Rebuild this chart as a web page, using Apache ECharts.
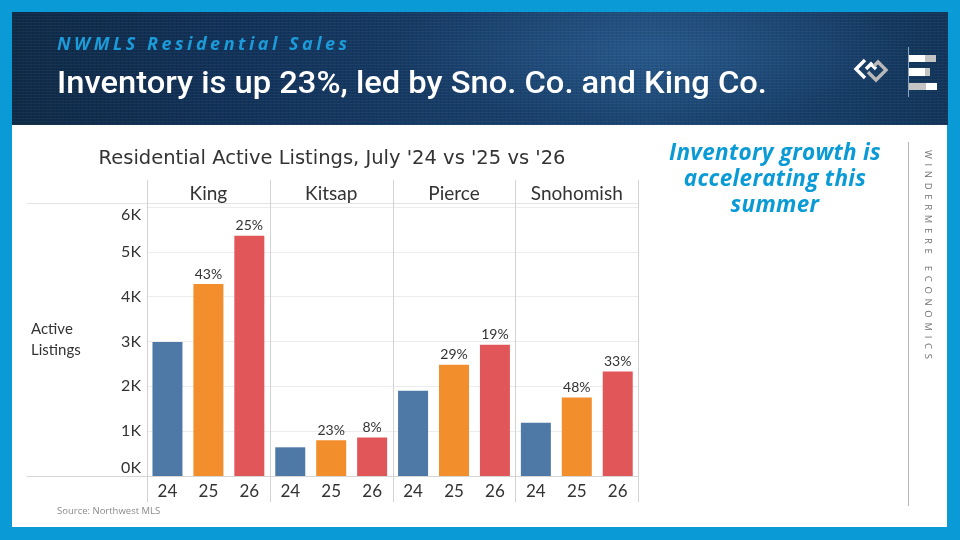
<!DOCTYPE html>
<html>
<head>
<meta charset="utf-8">
<script src="https://cdn.jsdelivr.net/npm/echarts@6/dist/echarts.min.js"></script>
<style>
  body { margin: 0; width: 960px; height: 540px; background: #0a9bd7; position: relative; overflow: hidden; font-family: Roboto, sans-serif; }
  #header {
    position: absolute; left: 12px; top: 12px; width: 936px; height: 113px;
    background:
      repeating-linear-gradient(0deg, rgba(255,255,255,0.04) 0px, rgba(255,255,255,0.04) 1px, rgba(0,0,0,0) 1px, rgba(0,0,0,0) 3px),
      repeating-linear-gradient(90deg, rgba(0,0,0,0.06) 0px, rgba(0,0,0,0.06) 1px, rgba(0,0,0,0) 1px, rgba(0,0,0,0) 4px),
      radial-gradient(ellipse 260px 70px at 640px 40px, rgba(60,120,180,0.35), rgba(60,120,180,0)),
      linear-gradient(90deg, #0f2a47 0%, #12325a 25%, #173d68 50%, #1b4673 68%, #173f6a 82%, #12345a 100%);
  }
  #panel { position: absolute; left: 12px; top: 125px; width: 935px; height: 402px; background: #fff; }
  #chart { position: absolute; left: 0; top: 0; width: 960px; height: 540px; z-index: 1; }
  .txt { position: absolute; z-index: 2; white-space: nowrap; }
  #sub { left: 57px; top: 31px; font: italic 700 18px "Open Sans", sans-serif; letter-spacing: 3.5px; color: #1b9bd8; }
  #head { left: 57px; top: 64px; font: 500 31px Roboto, sans-serif; color: #fff; transform-origin: left center; }
  #note { left: 640px; top: 139px; width: 270px; text-align: center; white-space: normal; font: italic 700 22.5px "Open Sans", sans-serif; letter-spacing: 0.3px; line-height: 26px; color: #0a9bd7; }
  #vline { position: absolute; z-index: 2; left: 908px; top: 142px; width: 1px; height: 364px; background: #b5b5b5; }
  #brand { left: 922px; top: 150px; writing-mode: vertical-rl; font: 400 9.5px "Open Sans", sans-serif; letter-spacing: 4.7px; color: #6f6f6f; }
  #src { left: 57px; top: 504px; font: 400 9.5px "Open Sans", sans-serif; color: #8a8a8a; }
  #logo { position: absolute; z-index: 2; left: 840px; top: 40px; }
</style>
</head>
<body>
<div id="header"></div>
<div id="panel"></div>
<div id="chart"></div>
<div class="txt" id="sub">NWMLS Residential Sales</div>
<div class="txt" id="head">Inventory is up 23%, led by Sno. Co. and King Co.</div>
<div class="txt" id="note">Inventory growth is accelerating this summer</div>
<div id="vline"></div>
<div class="txt" id="brand">WINDERMERE ECONOMICS</div>
<div class="txt" id="src">Source: Northwest MLS</div>
<svg id="logo" width="110" height="62" viewBox="0 0 110 62">
  <polyline points="25,20 16,29 25,38" fill="none" stroke="#ffffff" stroke-width="3.4"/>
  <polyline points="26,29 31,24 36,29" fill="none" stroke="#ffffff" stroke-width="3.4"/>
  <polyline points="28,32 36,40 46,30 38,22 34,26" fill="none" stroke="#b8b8b8" stroke-width="3.4"/>
  <line x1="68.5" y1="7" x2="68.5" y2="57" stroke="#8fa6bf" stroke-width="1"/>
  <rect x="69" y="15" width="16" height="7" fill="#ffffff"/>
  <rect x="85" y="15" width="11" height="7" fill="#c4c4c4"/>
  <rect x="69" y="28" width="16" height="8" fill="#ffffff"/>
  <rect x="85" y="28" width="5" height="8" fill="#c4c4c4"/>
  <rect x="69" y="43" width="17" height="7" fill="#c4c4c4"/>
  <rect x="86" y="43" width="11" height="7" fill="#ffffff"/>
</svg>
<script>
// Residential active listings in July, by county and year
var counties = ['King', 'Kitsap', 'Pierce', 'Snohomish'];
var years = ['24', '25', '26'];
var king = [2990, 4280, 5360];
var kitsap = [640, 800, 860];
var pierce = [1900, 2480, 2930];
var snohomish = [1190, 1750, 2330];
// year-over-year change shown above the bars
var kingPct = ['', '43%', '25%'];
var kitsapPct = ['', '23%', '8%'];
var piercePct = ['', '29%', '19%'];
var snohomishPct = ['', '48%', '33%'];
var yearColors = ['#4e79a7', '#f28e2b', '#e15759'];

var values = [king, kitsap, pierce, snohomish];
var pcts = [kingPct, kitsapPct, piercePct, snohomishPct];

var chart = echarts.init(document.getElementById('chart'));
var panelLeft = 147, panelW = 122.8, gridTop = 207, gridBottom = 476;
var fontFam = 'Lato, sans-serif';

var grids = [], xAxes = [], yAxes = [], series = [], titles = [];
titles.push({
    text: "Residential Active Listings, July '24 vs '25 vs '26",
    left: 332, top: 149, textAlign: 'center', padding: 0,
    textStyle: { fontFamily: '"DejaVu Sans", sans-serif', fontSize: 19.5, fontWeight: 'normal', color: '#333' }
});
titles.push({
    text: 'Active\nListings', left: 31, top: 319, padding: 0,
    textStyle: { fontFamily: fontFam, fontSize: 15, fontWeight: 'normal', color: '#333', lineHeight: 21 }
});

for (var i = 0; i < counties.length; i++) {
    var l = panelLeft + i * panelW;
    grids.push({ left: l, top: gridTop, width: panelW, height: gridBottom - gridTop });
    titles.push({
        text: counties[i], left: l + panelW / 2, top: 184, textAlign: 'center', padding: 0,
        textStyle: { fontFamily: fontFam, fontSize: 19, fontWeight: 'normal', color: '#333' }
    });
    xAxes.push({
        type: 'category', gridIndex: i, data: years,
        axisLine: { lineStyle: { color: '#d6d6d6' } },
        axisTick: { show: false },
        axisLabel: { fontFamily: fontFam, fontSize: 17, color: '#333', margin: 7 }
    });
    yAxes.push({
        type: 'value', gridIndex: i, min: 0, max: 6000, interval: 1000,
        axisLine: { show: false }, axisTick: { show: false },
        splitLine: { lineStyle: { color: '#ececec' } },
        axisLabel: {
            show: i === 0, fontFamily: fontFam, fontSize: 16, color: '#333', margin: 6,
            verticalAlignMinLabel: 'bottom', verticalAlignMaxLabel: 'top',
            formatter: function (v) { return (v / 1000) + 'K'; }
        }
    });
    series.push({
        type: 'bar', xAxisIndex: i, yAxisIndex: i, barWidth: 30,
        data: values[i].map(function (v, j) {
            return { value: v, itemStyle: { color: yearColors[j] } };
        }),
        label: {
            show: true, position: 'top', distance: 3,
            fontFamily: fontFam, fontSize: 14, color: '#333',
            formatter: (function (p) { return function (d) { return p[d.dataIndex]; }; })(pcts[i])
        }
    });
}

// panel frame lines
var frame = [];
for (var k = 0; k <= counties.length; k++) {
    var x = Math.round(panelLeft + k * panelW) + 0.5;
    frame.push({ type: 'line', shape: { x1: x, y1: 180, x2: x, y2: 502 }, style: { stroke: '#d2d2d2', lineWidth: 1 }, z: 5 });
}
frame.push({ type: 'line', shape: { x1: 27, y1: 203.5, x2: 638, y2: 203.5 }, style: { stroke: '#e4e4e4', lineWidth: 1 } });
frame.push({ type: 'line', shape: { x1: 27, y1: 476.5, x2: 147, y2: 476.5 }, style: { stroke: '#d6d6d6', lineWidth: 1 } });

chart.setOption({
    animation: false,
    title: titles,
    grid: grids,
    xAxis: xAxes,
    yAxis: yAxes,
    series: series,
    graphic: frame
});

// stretch the headline to the reference width
var head = document.getElementById('head');
head.style.transform = 'scaleX(' + (710 / head.offsetWidth) + ')';
</script>
</body>
</html>
